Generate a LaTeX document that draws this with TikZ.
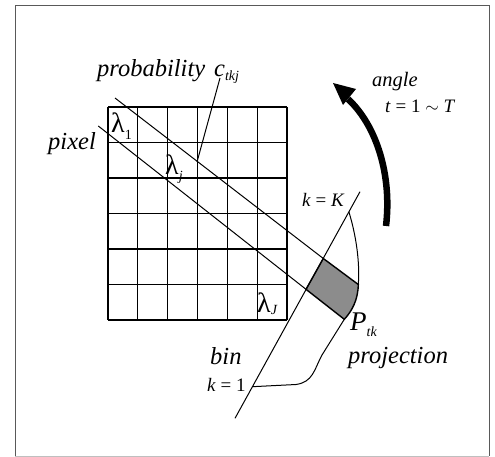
\documentclass[tikz,border=0pt]{standalone}
\usepackage{fontspec}
\setmainfont{Liberation Serif}
\newcommand{\lowsub}[2][4pt]{\raisebox{-#1}{\fontsize{14}{14}\selectfont\itshape #2}}
\begin{document}
\begin{tikzpicture}[x=1pt,y=-1pt,
  lbl/.style={inner sep=0pt, anchor=base west, font=\fontsize{24.5}{24.5}\selectfont\itshape},
  sml/.style={inner sep=0pt, anchor=base west, font=\fontsize{19}{19}\selectfont},
  lam/.style={inner sep=0pt, anchor=base west, font=\fontsize{28}{28}\selectfont},
  gridline/.style={line width=1.2pt},
  thin/.style={line width=1pt}]
\useasboundingbox (0,0) rectangle (495,457);
\fill[white] (0,0) rectangle (495,457);
% frame
\draw[black!65, line width=1pt] (15,456) -- (15,6) -- (489,6) -- (489,456);
\draw[black!25, line width=1pt] (15,456) -- (489,456);
% grid
\foreach \i in {0,...,6} {
  \draw[gridline] ({108+\i*29.83},107) -- ({108+\i*29.83},320);
  \draw[gridline] (108,{107+\i*35.5}) -- (287,{107+\i*35.5});
}
% named points
\coordinate (u0) at (115,98);
\coordinate (u1) at (323.3,258.5);
\coordinate (l0) at (98.3,126);
\coordinate (l1) at (306,289.3);
\coordinate (tr) at (358.3,284.5);
\coordinate (br) at (344.3,319.3);
\coordinate (binT) at (360,191.7);
\coordinate (binB) at (235,418.3);
\coordinate (kK) at (348.9,211.9);
\coordinate (k1) at (252.3,386.7);
% shaded bin cell
\filldraw[fill=black!45, line width=1.4pt] (u1) -- (tr) .. controls (358,300) and (352,311) .. (br) -- (l1) -- cycle;
% rays
\draw[thin] (u0) -- (u1);
\draw[thin] (l0) -- (l1);
% bin axis
\draw[thin] (binT) -- (binB);
% projection profile
\draw[thin] (kK) .. controls (356,235) and (360,262) .. (tr);
\draw[thin] (br) -- (322,355) .. controls (314,370) and (313,382) .. (296,384.5) -- (k1);
% rotation arrow
\draw[line width=6.5pt] (386,226) .. controls (392,176) and (377,126) .. (348,99);
\fill (333,83) -- (356,89) -- (343,105) -- cycle;
% labels
\node[lbl] (prob) at (97,77) {probability};
\node[lbl] (ctkj) at (214,77) {c\lowsub{tkj}};
\draw[thin] (220,78) -- (197,162);
\node[lbl] (pixel) at (48,150) {pixel};
\node[lam] (lam1) at (111,133) {λ\lowsub[7pt]{\upshape 1}};
\node[lam] (lamj) at (165,175) {λ\lowsub[6pt]{j}};
\node[lam] (lamJ) at (257,312) {λ\lowsub[2pt]{J}};
\node[sml, font=\fontsize{20.5}{20.5}\selectfont\itshape] (angle) at (372,87) {angle};
\node[sml] (tT) at (385,113) {\textit{t} = 1 $\sim$ \textit{T}};
\node[sml] (kKl) at (302,207) {\textit{k} = \textit{K}};
\node[lbl, font=\fontsize{27}{27}\selectfont\itshape] (Ptk) at (350,330) {P\lowsub[6pt]{tk}};
\node[lbl] (proj) at (348,363) {projection};
\node[lbl] (bin) at (210,364) {bin};
\node[sml] (k1l) at (207,391) {\textit{k} = 1};
\end{tikzpicture}
\end{document}
